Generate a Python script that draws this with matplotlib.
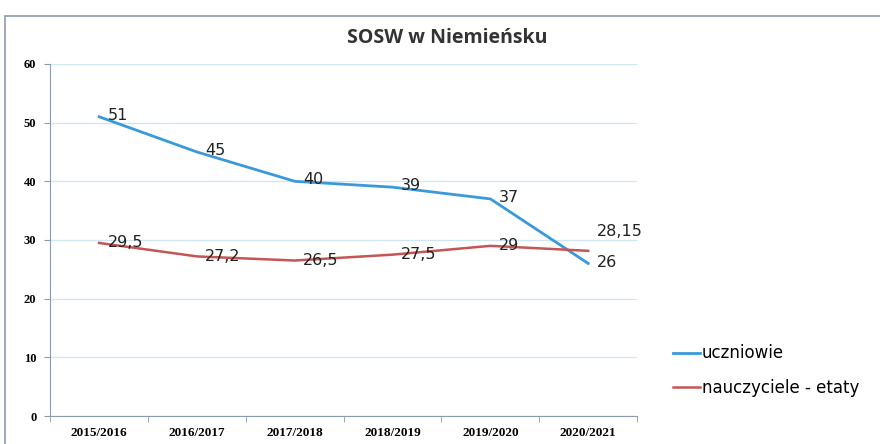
import matplotlib.pyplot as plt
from matplotlib.patches import Rectangle

lata = ['2015/2016', '2016/2017', '2017/2018', '2018/2019', '2019/2020', '2020/2021']
uczniowie = [51, 45, 40, 39, 37, 26]
nauczyciele = [29.5, 27.2, 26.5, 27.5, 29, 28.15]

niebieski = '#3a9ad9'
czerwony = '#c65555'

fig = plt.figure(figsize=(8.8, 4.44), dpi=100)
fig.patch.set_facecolor('white')

# ramka wokol wykresu
fig.add_artist(Rectangle((0.006, -0.01), 1.1, 0.975, transform=fig.transFigure,
                         fill=False, edgecolor='#8a9bb0', linewidth=1.2))

ax = fig.add_axes([0.057, 0.063, 0.667, 0.793])
x = list(range(len(lata)))

ax.plot(x, uczniowie, color=niebieski, lw=2.0, label='uczniowie')
ax.plot(x, nauczyciele, color=czerwony, lw=1.8, label='nauczyciele - etaty')

for i, v in enumerate(uczniowie):
    txt = str(v).replace('.', ',')
    ax.annotate(txt, (i, v), xytext=(6, 1), textcoords='offset points',
                va='center', ha='left', fontsize=11.5, color='#222222')
for i, v in enumerate(nauczyciele):
    txt = str(v).replace('.', ',')
    dy = 14 if i == len(nauczyciele) - 1 else 0
    ax.annotate(txt, (i, v), xytext=(6, dy), textcoords='offset points',
                va='center', ha='left', fontsize=11.5, color='#222222')

ax.set_xlim(-0.5, 5.5)
ax.set_ylim(0, 60)
ax.set_yticks(range(0, 61, 10))
ax.set_xticks(x)
ax.set_xticklabels(lata, fontsize=9.5, fontweight='bold', family='Liberation Serif')
ax.set_xticks([i - 0.5 for i in range(7)], minor=True)
ax.tick_params(axis='x', which='major', length=0, pad=8)
ax.tick_params(axis='x', which='minor', length=4, color='#8a9bb0')
ax.tick_params(axis='y', length=4, color='#8a9bb0', labelsize=9, pad=6)
for lab in ax.get_yticklabels():
    lab.set_fontweight('bold')
    lab.set_family('Liberation Serif')

ax.grid(axis='y', color='#cfe6f2', lw=0.9)
ax.set_axisbelow(True)
for s in ['top', 'right']:
    ax.spines[s].set_visible(False)
ax.spines['left'].set_color('#8a9bb0')
ax.spines['bottom'].set_color('#8a9bb0')

fig.text(0.508, 0.915, 'SOSW w Niemieńsku', ha='center', va='center',
         fontsize=14, fontweight='bold', color='#333333', family='Open Sans')

fig.legend(loc='center left', bbox_to_anchor=(0.748, 0.165), frameon=False,
           fontsize=12, handlelength=1.6, handletextpad=0.1, labelspacing=1.0)

fig.savefig('out.png', dpi=100)
